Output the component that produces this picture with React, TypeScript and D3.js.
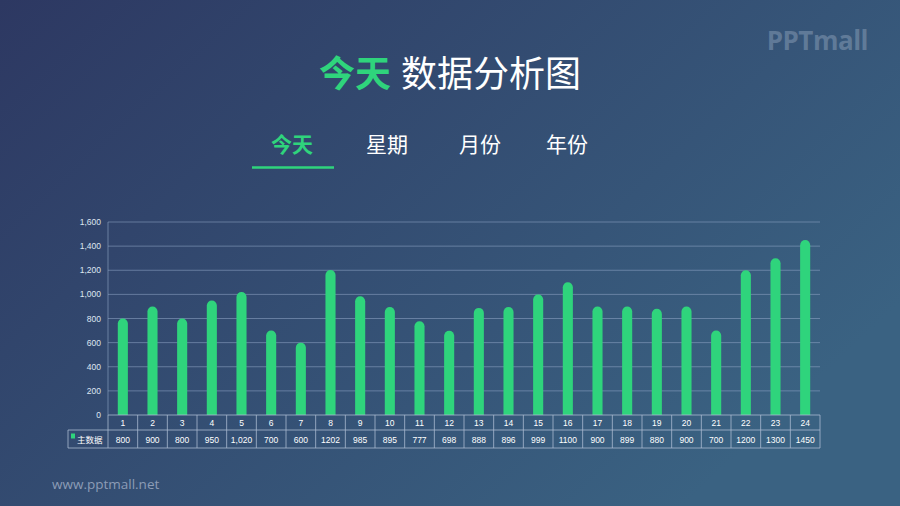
import React from 'react';
import * as d3 from 'd3';

const hours = ['1','2','3','4','5','6','7','8','9','10','11','12','13','14','15','16','17','18','19','20','21','22','23','24'];
const mainData = [800, 900, 800, 950, 1020, 700, 600, 1202, 985, 895, 777, 698, 888, 896, 999, 1100, 900, 899, 880, 900, 700, 1200, 1300, 1450];
const tableLabels = ['800','900','800','950','1,020','700','600','1202','985','895','777','698','888','896','999','1100','900','899','880','900','700','1200','1300','1450'];
const yTicks = [0, 200, 400, 600, 800, 1000, 1200, 1400, 1600];
const tabs = ['今天', '星期', '月份', '年份'];
const seriesName = '主数据';

const W = 900;
const H = 506;
const GREEN = '#2fd47c';
const TAB_X = [292, 387, 480, 567];

const App: React.FC = () => {
  const x = d3.scaleBand<string>().domain(hours).range([108, 820]).padding(0);
  const y = d3.scaleLinear().domain([0, 1600]).range([415, 222]);
  const fmt = d3.format(',');
  const barW = x.bandwidth() * 0.34;
  const rowTop = y(0);
  const rowMid = 430;
  const rowBot = 448;

  return (
    <svg width={W} height={H} style={{ position: 'absolute', left: 0, top: 0 }}
      fontFamily="'Noto Sans CJK SC', 'Noto Sans', sans-serif">
      <defs>
        <linearGradient id="bg" x1="0" y1="0" x2="1" y2="0.6">
          <stop offset="0" stopColor="#2d3862" />
          <stop offset="1" stopColor="#3a6282" />
        </linearGradient>
        <linearGradient id="sep" x1="0" y1="0" x2="1" y2="0">
          <stop offset="0" stopColor="#9fb4d4" stopOpacity="0" />
          <stop offset="0.2" stopColor="#9fb4d4" stopOpacity="0.8" />
          <stop offset="0.8" stopColor="#9fb4d4" stopOpacity="0.8" />
          <stop offset="1" stopColor="#9fb4d4" stopOpacity="0" />
        </linearGradient>
      </defs>
      <rect width={W} height={H} fill="url(#bg)" />

      {/* logo */}
      <text x={868} y={50} textAnchor="end" fontFamily="'Open Sans', sans-serif" fontWeight={700}
        fontSize={26} fill="#8a9fb8" fillOpacity={0.5} letterSpacing={-0.5}>PPTmall</text>

      {/* title */}
      <text x={450} y={87} textAnchor="middle" fontSize={36}>
        <tspan fill={GREEN} fontWeight={700}>今天</tspan>
        <tspan fill="#ffffff" dx={10}>数据分析图</tspan>
      </text>

      {/* tabs */}
      {tabs.map((t, i) => (
        <text key={t} x={TAB_X[i]} y={152} textAnchor="middle" fontSize={21}
          fill={i === 0 ? GREEN : '#ffffff'} fontWeight={i === 0 ? 700 : 400}>{t}</text>
      ))}
      <line x1={30} x2={862} y1={168} y2={168} stroke="url(#sep)" strokeWidth={1} />
      <line x1={252} x2={334} y1={167.5} y2={167.5} stroke={GREEN} strokeWidth={2.5} />

      {/* grid + y axis */}
      {yTicks.map(t => (
        <g key={t}>
          {t > 0 && <line x1={108} x2={820} y1={y(t)} y2={y(t)} stroke="#8fa6c6" strokeOpacity={0.55} strokeWidth={1} />}
          <text x={101} y={y(t) + 3} textAnchor="end" fontSize={8.5} fill="#dfe6f0"
            fontFamily="'Liberation Sans', Arial, sans-serif">{fmt(t)}</text>
        </g>
      ))}
      <line x1={108} x2={108} y1={222} y2={rowTop} stroke="#8fa6c6" strokeOpacity={0.6} />

      {/* bars */}
      {mainData.map((v, i) => {
        const cx = (x(hours[i]) as number) + x.bandwidth() / 2;
        const top = y(v);
        const r = barW / 2;
        const d = `M${cx - r},${rowTop} L${cx - r},${top + r} A${r},${r} 0 0 1 ${cx + r},${top + r} L${cx + r},${rowTop} Z`;
        return <path key={i} d={d} fill={GREEN} />;
      })}

      {/* data table */}
      <g fontFamily="'Liberation Sans', Arial, sans-serif" fontSize={8.5} fill="#ffffff">
        <line x1={108} x2={820} y1={rowTop} y2={rowTop} stroke="#a9b9cf" strokeOpacity={0.8} />
        <line x1={68} x2={820} y1={rowMid} y2={rowMid} stroke="#a9b9cf" strokeOpacity={0.8} />
        <line x1={68} x2={820} y1={rowBot} y2={rowBot} stroke="#a9b9cf" strokeOpacity={0.8} />
        <line x1={68} x2={68} y1={rowMid} y2={rowBot} stroke="#a9b9cf" strokeOpacity={0.8} />
        <line x1={108} x2={108} y1={rowTop} y2={rowBot} stroke="#a9b9cf" strokeOpacity={0.8} />
        {hours.map((h, i) => {
          const x0 = x(h) as number;
          const cx = x0 + x.bandwidth() / 2;
          return (
            <g key={h}>
              <line x1={x0 + x.bandwidth()} x2={x0 + x.bandwidth()} y1={rowTop} y2={rowBot}
                stroke="#a9b9cf" strokeOpacity={0.8} />
              <text x={cx} y={426} textAnchor="middle">{h}</text>
              <text x={cx} y={443} textAnchor="middle">{tableLabels[i]}</text>
            </g>
          );
        })}
        <rect x={71} y={433.5} width={4} height={5} fill={GREEN} />
        <text x={77} y={443} fontFamily="'Noto Sans CJK SC', sans-serif">{seriesName}</text>
      </g>

      {/* footer */}
      <text x={52} y={489} fontSize={13.5} fill="#8c9cb6" fontFamily="'Open Sans', sans-serif">www.pptmall.net</text>
    </svg>
  );
};

export default App;
